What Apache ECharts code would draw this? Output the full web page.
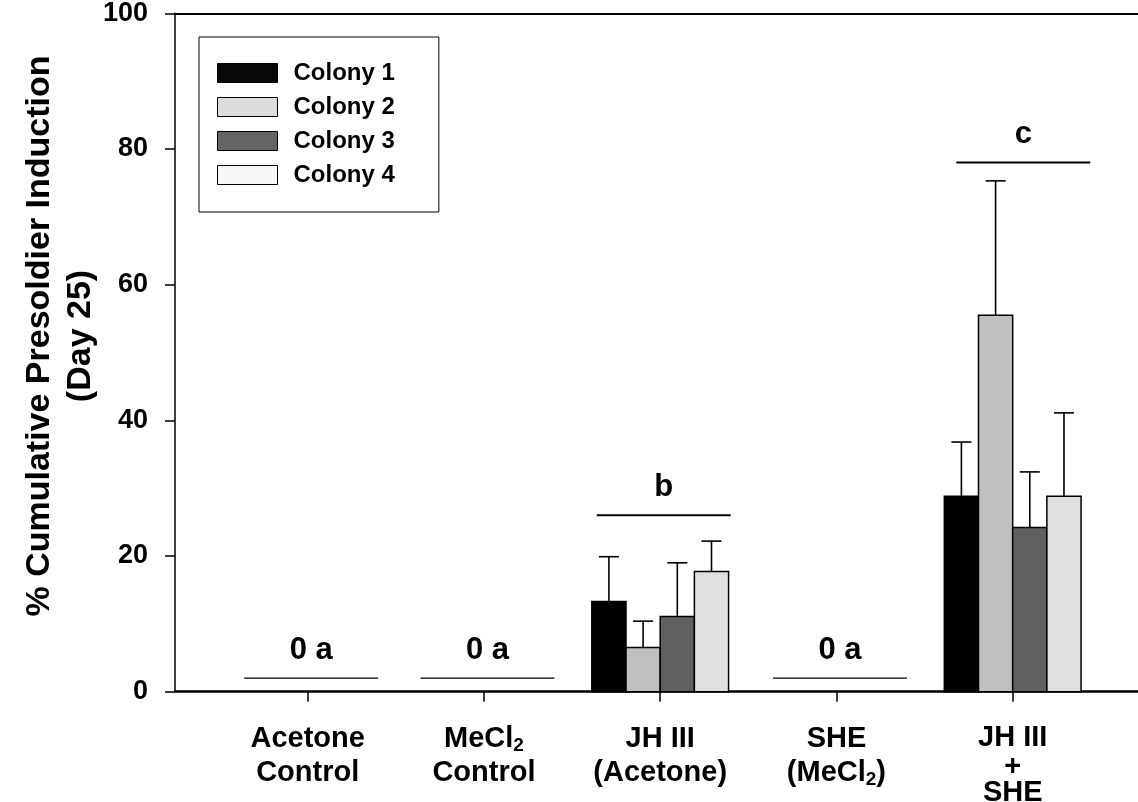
<!DOCTYPE html>
<html>
<head>
<meta charset="utf-8">
<script src="https://cdn.jsdelivr.net/npm/echarts@6/dist/echarts.min.js"></script>
<style>
  html, body { margin: 0; padding: 0; background: #fff; }
  #chart { width: 1138px; height: 802px; }
</style>
</head>
<body>
<div id="chart"></div>
<script>
// ---------------- DATA ----------------
const categories = ['Acetone\nControl', 'MeCl{sub|2}\nControl', 'JH III\n(Acetone)', 'SHE\n(MeCl{sub|2})', '{first|JH III}\n{t|+}\n{t|SHE}'];
const seriesNames = ['Colony 1', 'Colony 2', 'Colony 3', 'Colony 4'];
const colony1 = [0, 0, 13.3, 0, 28.8];
const colony1Err = [0, 0, 6.6, 0, 8.0];
const colony2 = [0, 0, 6.5, 0, 55.5];
const colony2Err = [0, 0, 3.9, 0, 19.8];
const colony3 = [0, 0, 11.1, 0, 24.2];
const colony3Err = [0, 0, 7.9, 0, 8.2];
const colony4 = [0, 0, 17.7, 0, 28.8];
const colony4Err = [0, 0, 4.5, 0, 12.3];
const sigLetters = ['0 a', '0 a', 'b', '0 a', 'c'];
const sigLineY = [2, 2, 26, 2, 78];
const yTicks = [0, 20, 40, 60, 80, 100];

// ---------------- STYLE / LAYOUT ----------------
const FONT = "'Liberation Sans', Arial, Helvetica, sans-serif";
const barColors = ['#000000', '#c0c0c0', '#606060', '#e0e0e0'];
const legendColors = ['#080808', '#dcdcdc', '#646464', '#f8f8f8'];
const BAR_W = 0.194;          // in category units
const SIG_HALF = 0.38;
const sigShift = [0.02, 0.02, 0.02, 0.02, 0.06];
const sigLineW = [1.2, 1.2, 2, 1.2, 2];

const chart = echarts.init(document.getElementById('chart'), null, { renderer: 'canvas' });

function barSeries(idx, values, errs) {
  return {
    type: 'custom',
    name: seriesNames[idx],
    xAxisIndex: 0,
    yAxisIndex: 0,
    clip: false,
    itemStyle: { color: legendColors[idx] },
    encode: { x: 0, y: 1 },
    data: values.map((v, i) => [i, v, errs[i]]),
    renderItem: function (params, api) {
      const cat = api.value(0), v = api.value(1), e = api.value(2);
      if (!v) return null;
      const xc = cat + (idx - 1.5) * BAR_W;
      const pTL = api.coord([xc - BAR_W / 2, v]);
      const pBR = api.coord([xc + BAR_W / 2, 0]);
      const top = api.coord([xc, v]);
      const eTop = api.coord([xc, v + e]);
      const children = [];
      if (e > 0) {
        children.push({
          type: 'line',
          shape: { x1: top[0], y1: top[1], x2: eTop[0], y2: eTop[1] },
          style: { stroke: '#000', lineWidth: 1.6 }
        });
        children.push({
          type: 'line',
          shape: { x1: eTop[0] - 10, y1: eTop[1], x2: eTop[0] + 10, y2: eTop[1] },
          style: { stroke: '#000', lineWidth: 1.6 }
        });
      }
      children.push({
        type: 'rect',
        shape: { x: pTL[0], y: pTL[1], width: pBR[0] - pTL[0], height: pBR[1] - pTL[1] },
        style: { fill: barColors[idx], stroke: '#000', lineWidth: 1.5 }
      });
      return { type: 'group', children: children };
    }
  };
}

const sigSeries = {
  type: 'custom',
  name: 'sig',
  clip: false,
  silent: true,
  encode: { x: 0, y: 1 },
  data: sigLineY.map((y, i) => [i, y]),
  renderItem: function (params, api) {
    const i = api.value(0), y = api.value(1);
    const c = i + sigShift[i];
    const a = api.coord([c - SIG_HALF, y]);
    const b = api.coord([c + SIG_HALF, y]);
    const mid = api.coord([c, y]);
    return {
      type: 'group',
      children: [
        { type: 'line', shape: { x1: a[0], y1: a[1], x2: b[0], y2: b[1] },
          style: { stroke: '#000', lineWidth: sigLineW[i] } },
        { type: 'text', x: mid[0], y: mid[1] - 28,
          style: { text: sigLetters[i], fill: '#000', font: 'bold 31px ' + FONT,
                   align: 'center', verticalAlign: 'middle' } }
      ]
    };
  }
};

const option = {
  animation: false,
  backgroundColor: '#ffffff',
  textStyle: { fontFamily: FONT, color: '#000' },
  grid: { left: 175, right: 0, top: 13.3, bottom: 110.3, containLabel: false, outerBoundsMode: 'none' },
  legend: {
    orient: 'vertical',
    left: 199,
    top: 37,
    padding: [24, 44, 25, 18],
    borderColor: '#000',
    borderWidth: 1,
    itemWidth: 60,
    itemHeight: 19,
    itemGap: 10,
    icon: 'rect',
    selectedMode: false,
    textStyle: { fontSize: 24, fontWeight: 'bold', color: '#000', fontFamily: FONT, lineHeight: 24, padding: [0, 0, 0, 11] },
    data: seriesNames.map((n, i) => ({
      name: n,
      itemStyle: { color: legendColors[i], borderColor: '#000', borderWidth: 1 }
    }))
  },
  xAxis: [{
    type: 'value',
    position: 'bottom',
    min: -0.753,
    max: 4.711,
    splitLine: { show: false },
    axisLine: { show: true, onZero: false, lineStyle: { color: '#000', width: 2.5 } },
    axisTick: { show: true, customValues: [0, 1, 2, 3, 4], length: 10, lineStyle: { color: '#000', width: 1.5 } },
    axisLabel: {
      show: true,
      customValues: [0, 1, 2, 3, 4],
      margin: 30,
      color: '#000',
      fontSize: 29,
      fontWeight: 'bold',
      fontFamily: FONT,
      lineHeight: 34,
      align: 'center',
      formatter: function (v) { return categories[Math.round(v)]; },
      rich: {
        sub: { fontSize: 19, fontWeight: 'bold', fontFamily: FONT, lineHeight: 20, verticalAlign: 'bottom', color: '#000' },
        first: { fontSize: 29, fontWeight: 'bold', fontFamily: FONT, lineHeight: 32, color: '#000' },
        t: { fontSize: 29, fontWeight: 'bold', fontFamily: FONT, lineHeight: 26, color: '#000' }
      }
    }
  }, {
    type: 'value',
    position: 'top',
    min: -0.753,
    max: 4.711,
    splitLine: { show: false },
    axisLine: { show: true, onZero: false, lineStyle: { color: '#000', width: 2 } },
    axisTick: { show: false },
    axisLabel: { show: false }
  }],
  yAxis: {
    type: 'value',
    min: 0,
    max: 100,
    interval: 20,
    splitLine: { show: false },
    axisLine: { show: true, onZero: false, lineStyle: { color: '#000', width: 1.5 } },
    axisTick: { show: true, length: 10, lineStyle: { color: '#000', width: 1.5 } },
    axisLabel: {
      margin: 27,
      color: '#000',
      fontSize: 27,
      fontWeight: 'bold',
      fontFamily: FONT,
      formatter: function (v) { return yTicks.indexOf(v) >= 0 ? String(v) : ''; }
    }
  },
  graphic: [{
    type: 'text',
    x: 60,
    y: 336,
    rotation: Math.PI / 2,
    style: {
      text: '% Cumulative Presoldier Induction\n(Day 25)',
      font: 'bold 34px ' + FONT,
      lineHeight: 41,
      fill: '#000',
      align: 'center',
      verticalAlign: 'middle'
    }
  }],
  series: [
    barSeries(0, colony1, colony1Err),
    barSeries(1, colony2, colony2Err),
    barSeries(2, colony3, colony3Err),
    barSeries(3, colony4, colony4Err),
    sigSeries
  ]
};

chart.setOption(option);
</script>
</body>
</html>
